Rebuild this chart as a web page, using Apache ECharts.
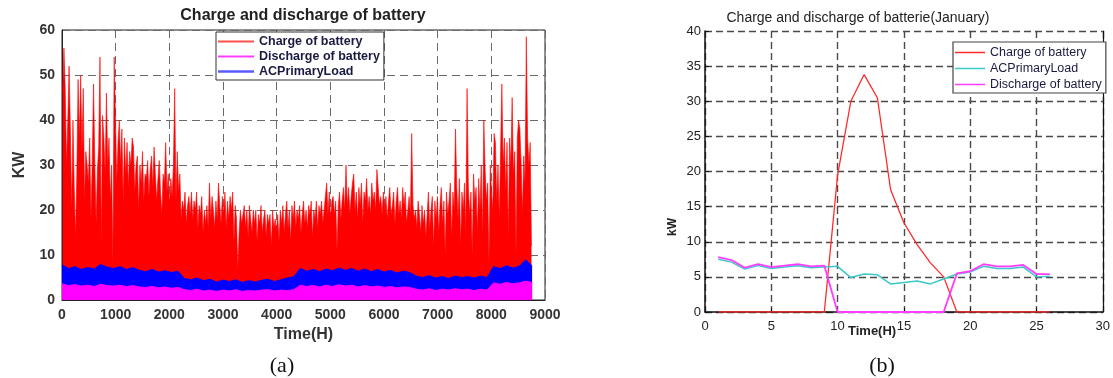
<!DOCTYPE html>
<html>
<head>
<meta charset="utf-8">
<title>Charge and discharge of battery</title>
<script src="https://cdn.jsdelivr.net/npm/echarts@6/dist/echarts.min.js"></script>
<style>
  html, body { margin: 0; padding: 0; background: #fff; }
  #chart { width: 1113px; height: 378px; }
</style>
</head>
<body>
<div id="chart"></div>
<script>
// ---- Panel (a): one year, daily charge peaks (kW), one value per day ----
const chargeDaily = [
  46, 56, 47, 30, 40, 52, 38, 20, 40, 25,
  14, 28, 49, 36, 50, 33, 47, 22, 33, 30,
  26, 36, 18, 31, 48, 30, 17, 29, 34, 54,
  12, 41, 36, 28, 46, 30, 36, 22, 30, 8,
  54, 41, 26, 35, 40, 30, 38, 22, 36, 28,
  35, 25, 33, 30, 36, 34, 24, 30, 32, 20,
  30, 26, 33, 22, 28, 27, 31, 23, 29, 32,
  25, 34, 28, 22, 27, 31, 24, 19, 28, 26,
  35, 24, 28, 21, 27, 23, 30, 47, 22, 33,
  24, 28, 18, 22, 20, 24, 17, 21, 23, 19,
  24, 18, 22, 20, 24, 16, 21, 19, 23, 15,
  20, 17, 21, 16, 26, 18, 23, 20, 16, 22,
  18, 26, 21, 17, 23, 19, 24, 16, 22, 18,
  23, 20, 24, 13, 21, 18, 7, 15, 20, 17,
  19, 21, 16, 20, 14, 21, 18, 15, 20, 17,
  20, 13, 19, 17, 21, 15, 18, 20, 14, 19,
  17, 19, 12, 20, 16, 18, 15, 19, 13, 20,
  17, 21, 15, 19, 22, 16, 20, 13, 21, 18,
  22, 16, 20, 18, 21, 15, 19, 22, 17, 20,
  16, 21, 19, 22, 14, 20, 18, 22, 16, 21,
  19, 22, 17, 20, 23, 26, 19, 24, 18, 22,
  23, 19, 22, 11, 21, 24, 18, 22, 25, 20,
  30, 21, 25, 19, 23, 26, 28, 20, 24, 18,
  25, 21, 26, 17, 24, 22, 27, 20, 23, 19,
  26, 22, 24, 20, 29, 25, 21, 23, 19, 24,
  20, 23, 18, 22, 25, 19, 21, 24, 17, 22,
  25, 19, 22, 18, 25, 21, 24, 17, 20, 23,
  19, 37, 21, 18, 20, 16, 22, 19, 15, 21,
  17, 20, 14, 19, 24, 16, 20, 23, 12, 22,
  18, 23, 15, 21, 25, 17, 22, 10, 24, 19,
  22, 26, 14, 24, 20, 38, 25, 18, 27, 12,
  24, 20, 26, 15, 47, 25, 19, 24, 10, 28,
  22, 25, 15, 27, 20, 30, 14, 40, 29, 22,
  26, 8, 30, 24, 20, 37, 35, 22, 30, 18,
  33, 48, 30, 36, 24, 35, 14, 36, 30, 45,
  28, 33, 10, 36, 40, 38, 30, 19, 32, 26,
  58.5, 36, 30, 35, 12
];

// Load and discharge envelopes (kW), one value every 120 h
const loadYear = [
  7.8, 7.0, 7.4, 6.8, 7.2, 6.9, 7.9, 7.3, 7.0, 7.4,
  6.8, 7.2, 6.6, 6.3, 6.8, 6.2, 6.5, 6.1, 6.4, 4.8,
  4.5, 4.9, 4.3, 4.6, 4.0, 4.4, 4.1, 4.5, 3.9, 4.3,
  4.0, 4.4, 4.6, 4.1, 4.5, 4.9, 5.2, 7.0, 6.4, 6.8,
  6.3, 6.9, 6.5, 7.1, 6.6, 7.0, 6.4, 6.9, 6.3, 6.8,
  6.2, 6.6, 6.0, 6.4, 6.1, 5.3, 5.0, 5.4, 4.9, 5.2,
  4.8, 5.3, 5.0, 5.2, 4.9, 5.3, 5.0, 7.4, 7.0, 7.6,
  7.1, 7.5, 8.9, 7.6
];
const dischargeYear = [
  3.6, 3.2, 3.4, 3.1, 3.3, 3.0, 3.5, 3.2, 3.1, 3.3,
  3.0, 3.2, 2.9, 2.8, 3.0, 2.7, 2.9, 2.6, 2.8, 2.3,
  2.1, 2.4, 2.0, 2.2, 1.9, 2.2, 2.0, 2.3, 1.9, 2.1,
  2.0, 2.2, 2.3, 2.0, 2.2, 2.1, 2.3, 3.3, 3.0, 3.2,
  2.9, 3.3, 3.0, 3.4, 3.1, 3.3, 2.9, 3.2, 2.9, 3.1,
  2.8, 3.0, 2.7, 2.9, 2.8, 2.4, 2.2, 2.5, 2.1, 2.4,
  2.2, 2.5, 2.3, 2.4, 2.1, 2.4, 2.2, 3.8, 3.5, 3.9,
  3.6, 3.8, 4.2, 3.9
];
const DAY_HOURS = 24;
const ENVELOPE_STEP = 120;

// ---- Panel (b): a January day, hourly (kW) ----
const hoursJan = [1, 2, 3, 4, 5, 6, 7, 8, 9, 10, 11, 12, 13, 14, 15, 16, 17, 18, 19, 20, 21, 22, 23, 24, 25, 26];
const chargeJan = [0, 0, 0, 0, 0, 0, 0, 0, 0, 19.5, 30, 33.8, 30.5, 17.4, 12.7, 9.6, 7.0, 5.0, 0, 0, 0, 0, 0, 0, 0, 0];
const loadJan = [7.5, 7.1, 6.1, 6.6, 6.2, 6.4, 6.6, 6.3, 6.4, 6.5, 4.9, 5.4, 5.3, 4.0, 4.2, 4.4, 4.0, 4.7, 5.4, 5.7, 6.5, 6.2, 6.2, 6.4, 5.0, 5.1];
const dischargeJan = [7.8, 7.4, 6.3, 6.8, 6.4, 6.6, 6.8, 6.5, 6.6, 0, 0, 0, 0, 0, 0, 0, 0, 0, 5.5, 5.8, 6.8, 6.5, 6.5, 6.7, 5.4, 5.4];

const NAME_CHARGE = 'Charge of battery';
const NAME_DISCHARGE = 'Discharge of battery';
const NAME_LOAD = 'ACPrimaryLoad';

const SANS = '"Liberation Sans", Arial, sans-serif';
const SERIF = '"Liberation Serif", "Times New Roman", serif';

const RED = '#ff0000', MAGENTA = '#ff00ff', BLUE = '#0000ff';
const RED_B = '#ff2a2a', CYAN_B = '#3cc8c8', MAGENTA_B = '#ff3cff';

const chargeSeries = chargeDaily.map((v, d) => [d * DAY_HOURS + 12, v]);
const loadSeries = loadYear.map((v, i) => [i * ENVELOPE_STEP, v]);
const dischargeSeries = dischargeYear.map((v, i) => [i * ENVELOPE_STEP, v]);
const pairs = (xs, ys) => xs.map((x, i) => [x, ys[i]]);
const plain = v => String(v);

// legend swatch: a short horizontal stroke
const swatch = (w, h) => 'path://M0,0H' + w + 'V' + h + 'H0Z';

const chart = echarts.init(document.getElementById('chart'), null, { renderer: 'canvas' });

const gridDashA = { show: true, lineStyle: { type: [8, 5], color: '#6a6a6a', width: 1 } };
const gridDashB = { show: true, lineStyle: { type: [7, 4], color: '#4a4a4a', width: 1.4 } };
const labelA = { fontFamily: SANS, fontWeight: 'bold', fontSize: 14, color: '#333', formatter: plain };
const labelB = { fontFamily: SANS, fontSize: 13, color: '#222', formatter: plain };

chart.setOption({
  animation: false,
  backgroundColor: '#fff',
  grid: [
    { left: 62, top: 30, width: 483, height: 270, show: true, borderColor: '#222', borderWidth: 1, backgroundColor: 'transparent' },
    { left: 705, top: 31, width: 401, height: 281 }
  ],
  xAxis: [
    {
      type: 'value', gridIndex: 0, min: 0, max: 9000, interval: 1000,
      axisLine: { show: true, onZero: false, lineStyle: { color: '#222', width: 1 } },
      axisTick: { show: false },
      axisLabel: Object.assign({ margin: 8 }, labelA),
      splitLine: gridDashA,
      name: 'Time(H)', nameLocation: 'middle', nameGap: 21,
      nameTextStyle: { fontFamily: SANS, fontWeight: 'bold', fontSize: 16, color: '#333' }
    },
    {
      type: 'value', gridIndex: 1, min: 0, max: 30, interval: 5,
      axisLine: { show: true, onZero: false, lineStyle: { color: '#111', width: 1.5 } },
      axisTick: { show: true, inside: true, length: 4, lineStyle: { color: '#111' } },
      axisLabel: Object.assign({ margin: 8 }, labelB),
      splitLine: gridDashB
    }
  ],
  yAxis: [
    {
      type: 'value', gridIndex: 0, min: 0, max: 60, interval: 10,
      axisLine: { show: true, onZero: false, lineStyle: { color: '#222', width: 1 } },
      axisTick: { show: false },
      axisLabel: Object.assign({ margin: 7 }, labelA),
      splitLine: gridDashA,
      name: 'KW', nameLocation: 'middle', nameGap: 34,
      nameTextStyle: { fontFamily: SANS, fontWeight: 'bold', fontSize: 16, color: '#333' }
    },
    {
      type: 'value', gridIndex: 1, min: 0, max: 40, interval: 5,
      axisLine: { show: true, onZero: false, lineStyle: { color: '#111', width: 1.5 } },
      axisTick: { show: true, inside: true, length: 4, lineStyle: { color: '#111' } },
      axisLabel: Object.assign({ margin: 4 }, labelB),
      splitLine: gridDashB
    },
    {
      type: 'value', gridIndex: 1, min: 0, max: 40, interval: 5, position: 'right',
      axisLine: { show: true, onZero: false, lineStyle: { color: '#111', width: 1.2 } },
      axisTick: { show: false }, axisLabel: { show: false }, splitLine: { show: false }
    }
  ],
  legend: [
    {
      left: 216, top: 32, orient: 'vertical',
      itemWidth: 36, itemHeight: 15, itemGap: 2,
      padding: [3, 4, 2, 2],
      borderColor: '#333', borderWidth: 1, backgroundColor: '#fff',
      selectedMode: false,
      textStyle: { fontFamily: SANS, fontWeight: 'bold', fontSize: 12.5, color: '#1a1a40' },
      data: [
        { name: NAME_CHARGE, icon: swatch(36, 2), itemStyle: { color: '#ff5050' } },
        { name: NAME_DISCHARGE, icon: swatch(36, 2), itemStyle: { color: '#ff40ff' } },
        { name: NAME_LOAD, icon: swatch(36, 2.5), itemStyle: { color: '#5a5aff' } }
      ]
    },
    {
      left: 953, top: 42, orient: 'vertical',
      itemWidth: 30, itemHeight: 17, itemGap: 3,
      padding: [4, 4, 2, 2],
      borderColor: '#444', borderWidth: 1.2, backgroundColor: '#fff',
      selectedMode: false,
      textStyle: { fontFamily: SANS, fontSize: 12.5, color: '#1a1a40' },
      data: [
        { name: NAME_CHARGE, icon: swatch(30, 1.5), itemStyle: { color: RED_B } },
        { name: NAME_LOAD, icon: swatch(30, 1.5), itemStyle: { color: CYAN_B } },
        { name: NAME_DISCHARGE, icon: swatch(30, 1.5), itemStyle: { color: MAGENTA_B } }
      ]
    }
  ],
  series: [
    {
      name: NAME_CHARGE, type: 'line', xAxisIndex: 0, yAxisIndex: 0,
      data: chargeSeries, symbol: 'none', smooth: false,
      itemStyle: { color: RED },
      lineStyle: { color: RED, width: 0.6 },
      areaStyle: { color: RED, opacity: 1 }
    },
    {
      name: NAME_LOAD, type: 'line', xAxisIndex: 0, yAxisIndex: 0,
      data: loadSeries, symbol: 'none',
      itemStyle: { color: BLUE },
      lineStyle: { color: BLUE, width: 1 },
      areaStyle: { color: BLUE, opacity: 1 }
    },
    {
      name: NAME_DISCHARGE, type: 'line', xAxisIndex: 0, yAxisIndex: 0,
      data: dischargeSeries, symbol: 'none',
      itemStyle: { color: MAGENTA },
      lineStyle: { color: MAGENTA, width: 1 },
      areaStyle: { color: MAGENTA, opacity: 1 }
    },
    {
      name: NAME_CHARGE, type: 'line', xAxisIndex: 1, yAxisIndex: 1,
      data: pairs(hoursJan, chargeJan), symbol: 'none',
      itemStyle: { color: RED_B }, lineStyle: { color: RED_B, width: 1.3 }
    },
    {
      name: NAME_LOAD, type: 'line', xAxisIndex: 1, yAxisIndex: 1,
      data: pairs(hoursJan, loadJan), symbol: 'none',
      itemStyle: { color: CYAN_B }, lineStyle: { color: CYAN_B, width: 1.5 }
    },
    {
      name: NAME_DISCHARGE, type: 'line', xAxisIndex: 1, yAxisIndex: 1,
      data: pairs(hoursJan, dischargeJan), symbol: 'none',
      itemStyle: { color: MAGENTA_B }, lineStyle: { color: MAGENTA_B, width: 1.8 }
    }
  ],
  graphic: [
    { type: 'text', x: 303, y: 16, style: { text: 'Charge and discharge of battery', align: 'center', verticalAlign: 'middle', font: 'bold 16px ' + SANS, fill: '#222' } },
    { type: 'text', x: 858, y: 18, style: { text: 'Charge and discharge of batterie(January)', align: 'center', verticalAlign: 'middle', font: '14px ' + SANS, fill: '#222' } },
    { type: 'text', x: 673, y: 227, rotation: Math.PI / 2, style: { text: 'kW', align: 'center', verticalAlign: 'middle', font: 'bold 12px ' + SANS, fill: '#222' } },
    { type: 'text', x: 848, y: 331, style: { text: 'Time(H)', align: 'left', verticalAlign: 'middle', font: 'bold 13px ' + SANS, fill: '#222' } },
    { type: 'text', x: 282, y: 366, style: { text: '(a)', align: 'center', verticalAlign: 'middle', font: '22px ' + SERIF, fill: '#111' } },
    { type: 'text', x: 882, y: 366, style: { text: '(b)', align: 'center', verticalAlign: 'middle', font: '22px ' + SERIF, fill: '#111' } }
  ]
});
</script>
</body>
</html>
